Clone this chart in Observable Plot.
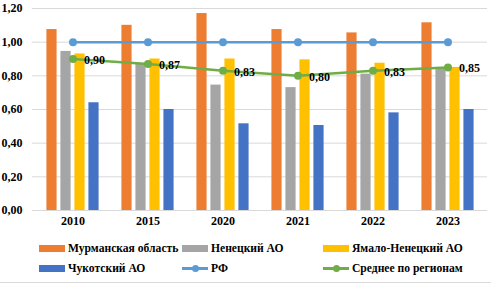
<!DOCTYPE html>
<html><head><meta charset="utf-8">
<script src="https://cdn.jsdelivr.net/npm/d3@7"></script>
<script src="https://cdn.jsdelivr.net/npm/@observablehq/plot@0.6"></script>
<style>
body{margin:0;background:#fff;}
#wrap{position:relative;width:491px;height:284px;overflow:hidden;font-family:"Liberation Serif","DejaVu Serif",serif;font-weight:bold;color:#000;}
#frame{position:absolute;left:0;top:282px;width:491px;height:1px;background:#d9d9d9;}
.lg{position:absolute;height:16px;display:flex;align-items:center;font-size:11.6px;white-space:nowrap;font-family:"Liberation Serif","DejaVu Serif",serif;}
.sw{width:26px;height:7px;margin-right:3px;}
.ln{position:relative;width:26px;height:16px;margin-right:3px;}
.ln .l{position:absolute;left:0;top:7px;width:26px;height:2.5px;}
.ln .c{position:absolute;left:9.5px;top:4.5px;width:7px;height:7px;border-radius:50%;}
svg text{font-family:"Liberation Serif","DejaVu Serif",serif !important;}
</style></head><body><div id="wrap"></div>
<script>
const years = ["2010","2015","2020","2021","2022","2023"];
const murmansk = [1.075,1.10,1.17,1.075,1.055,1.115];
const nenets = [0.945,0.87,0.745,0.73,0.81,0.85];
const yamal = [0.93,0.90,0.90,0.895,0.875,0.85];
const chukotka = [0.64,0.60,0.515,0.505,0.58,0.60];
const rf = [1.00,1.00,1.00,1.00,1.00,1.00];
const avg = [0.90,0.87,0.83,0.80,0.83,0.85];
const barNames = ["Мурманская область","Ненецкий АО","Ямало-Ненецкий АО","Чукотский АО"];
const lineNames = ["РФ","Среднее по регионам"];
const yTicks = [0,0.2,0.4,0.6,0.8,1.0,1.2];

const barColors = ["#ED7D31","#A5A5A5","#FFC000","#4472C4"];
const rfColor = "#5B9BD5", avgColor = "#70AD47";
const fmt = d => d.toFixed(2).replace(".", ",");
const rows = vals => years.map((y, j) => ({year: y, value: vals[j]}));

const W = 491, ML = 32, MR = 4, H = 228;
const bw = (W - ML - MR) / years.length;
const barW = 11, gap = 3;
const groupW = 4 * barW + 3 * gap;

const barSeries = [murmansk, nenets, yamal, chukotka];
const barMarks = barSeries.map((vals, i) => {
  const left = bw / 2 - groupW / 2 + i * (barW + gap);
  return Plot.barY(rows(vals), {x: "year", y: "value", fill: barColors[i], insetLeft: left, insetRight: bw - left - barW});
});

const plot = Plot.plot({
  width: W, height: H,
  marginLeft: ML, marginRight: MR, marginTop: 8, marginBottom: 18,
  style: {fontFamily: "Liberation Serif", fontWeight: "bold", fontSize: "12px", color: "#000", background: "#fff"},
  x: {type: "band", domain: years, padding: 0, label: null},
  y: {domain: [0, 1.2], label: null},
  marks: [
    Plot.gridY(yTicks, {stroke: "#d9d9d9", strokeOpacity: 1}),
    ...barMarks,
    Plot.line(rows(rf), {x: "year", y: "value", stroke: rfColor, strokeWidth: 2.5}),
    Plot.dot(rows(rf), {x: "year", y: "value", fill: rfColor, r: 4}),
    Plot.line(rows(avg), {x: "year", y: "value", stroke: avgColor, strokeWidth: 2.5}),
    Plot.dot(rows(avg), {x: "year", y: "value", fill: avgColor, r: 4}),
    Plot.text(rows(avg), {x: "year", y: "value", text: d => fmt(d.value), dx: 11, dy: 1, textAnchor: "start", fill: "#000", fontWeight: "bold", fontSize: 12}),
    Plot.axisY({ticks: yTicks, tickFormat: fmt, tickSize: 0, tickPadding: 10, fontSize: 12}),
    Plot.axisX({tickSize: 0, tickPadding: 6, fontSize: 12})
  ]
});

const wrap = document.getElementById("wrap");
plot.style.position = "absolute";
plot.style.left = "0px"; plot.style.top = "0px";
wrap.appendChild(plot);

const legendItems = [
  {name: barNames[0], kind: "bar", color: barColors[0], x: 39, y: 240},
  {name: barNames[1], kind: "bar", color: barColors[1], x: 182, y: 240},
  {name: barNames[2], kind: "bar", color: barColors[2], x: 323, y: 240},
  {name: barNames[3], kind: "bar", color: barColors[3], x: 39, y: 260},
  {name: lineNames[0], kind: "line", color: rfColor, x: 182, y: 260},
  {name: lineNames[1], kind: "line", color: avgColor, x: 323, y: 260}
];
for (const it of legendItems) {
  const d = document.createElement("div");
  d.className = "lg";
  d.style.left = it.x + "px"; d.style.top = it.y + "px";
  if (it.kind === "bar") {
    d.innerHTML = `<div class="sw" style="background:${it.color}"></div><span>${it.name}</span>`;
  } else {
    d.innerHTML = `<div class="ln"><div class="l" style="background:${it.color}"></div><div class="c" style="background:${it.color}"></div></div><span>${it.name}</span>`;
  }
  wrap.appendChild(d);
}
const fr = document.createElement("div"); fr.id = "frame"; wrap.appendChild(fr);
</script></body></html>
